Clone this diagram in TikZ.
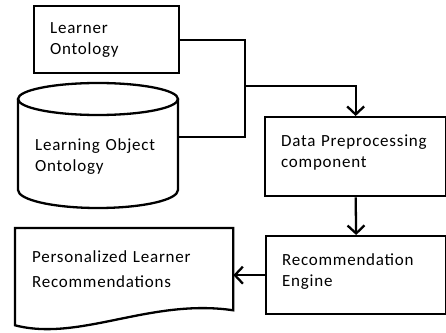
\documentclass[tikz,border=0pt]{standalone}
\usepackage{fontspec}
\setmainfont{Carlito}[LetterSpace=4.5]
\usetikzlibrary{arrows.meta}

\begin{document}
\begin{tikzpicture}[x=1pt,y=-1pt,line width=2.3pt,
  txt/.style={font=\fontsize{17}{21}\selectfont, align=left, inner xsep=16pt, inner ysep=0pt, anchor=north west},
  blk/.style={txt, draw, rectangle},
  arr/.style={-{Straight Barb[length=8pt,width=17pt,line width=2.3pt]}}]

\useasboundingbox (0,0) rectangle (446,332);

% Boxes
\node[blk, text width=113pt, minimum height=67pt] (lr) at (33,5) {Learner\\Ontology};
\node[blk, text width=149pt, minimum height=79pt] (dp) at (264,116) {Data Preprocessing\\component\vspace{8pt}};
\node[blk, text width=148pt, minimum height=78pt] (re) at (265,235) {Recommendation\\Engine\vspace{8pt}};

% Cylinder (drawn by hand)
\draw (18,99) -- (18,190) arc[start angle=180, end angle=360, x radius=80pt, y radius=18pt] -- (178,99);
\draw (98,99) ellipse[x radius=80pt, y radius=16pt];
\node[txt, text width=128pt, minimum height=80pt] (lo) at (18,115) {Learning Object\\Ontology};
\coordinate (loin) at (178,137);

% Document shape
\node[txt, text width=184pt, minimum height=80pt, font=\fontsize{17}{25}\selectfont] (pr) at (15,228) {Personalized Learner\\Recommendations};
\draw (pr.north west) -- (pr.north east) -- (pr.south east)
  .. controls (150,298) and (80,342) .. ([yshift=-15pt]pr.south west) -- cycle;

% Connectors
\coordinate (jn) at (245,86);
\draw (lr.east) -| (jn) |- (loin);
\draw[arr] (jn) -| (dp.north);
\draw[arr] (dp.south) -- (re.north);
\draw[arr] (re.west) -- (re.west -| pr.east);

\end{tikzpicture}
\end{document}
